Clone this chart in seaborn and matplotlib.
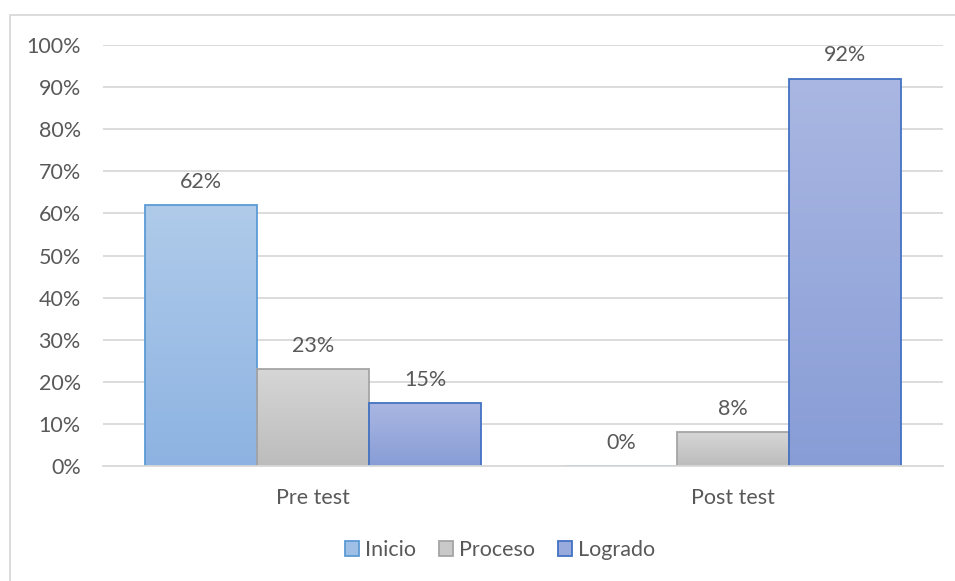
import numpy as np
import pandas as pd
import matplotlib
matplotlib.use("Agg")
import matplotlib.pyplot as plt
import seaborn as sns
from matplotlib.colors import LinearSegmentedColormap
from matplotlib.patches import Rectangle

categories = ["Pre test", "Post test"]
series = ["Inicio", "Proceso", "Logrado"]
inicio = [0.62, 0.00]
proceso = [0.23, 0.08]
logrado = [0.15, 0.92]
y_ticks = [0.0, 0.1, 0.2, 0.3, 0.4, 0.5, 0.6, 0.7, 0.8, 0.9, 1.0]

rows = []
for s, vals in zip(series, [inicio, proceso, logrado]):
    for c, v in zip(categories, vals):
        rows.append({"Test": c, "Nivel": s, "Valor": v})
df = pd.DataFrame(rows)

sns.set_theme(style="white")
plt.rcParams["font.family"] = ["Lato", "DejaVu Sans"]
txt = "#595959"
fs = 15.5

edge_colors = {"Inicio": "#5b9bd5", "Proceso": "#a5a5a5", "Logrado": "#4472c4"}
grad = {"Inicio": ("#b0cbea", "#8db3e2"),
        "Proceso": ("#d6d6d6", "#bcbcbc"),
        "Logrado": ("#aab7e2", "#889dd6")}
mid = {"Inicio": "#9fbfe6", "Proceso": "#c9c9c9", "Logrado": "#99aadc"}

fig = plt.figure(figsize=(9.55, 5.81), dpi=100)
ax = fig.add_axes([103/955, 115/581, 840/955, 421/581])

sns.barplot(data=df, x="Test", y="Valor", hue="Nivel", hue_order=series,
            order=categories, palette=mid, width=0.8, ax=ax, legend=False,
            saturation=1)

for cont, s in zip(ax.containers, series):
    cmap = LinearSegmentedColormap.from_list(s, [grad[s][1], grad[s][0]])
    for bar in cont:
        bar.set_edgecolor(edge_colors[s])
        bar.set_linewidth(1.3)
        x0, y0 = bar.get_x(), bar.get_y()
        w, h = bar.get_width(), bar.get_height()
        if h > 0:
            bar.set_facecolor("none")
            im = ax.imshow(np.linspace(0, 1, 256).reshape(-1, 1), cmap=cmap,
                           aspect="auto", origin="lower",
                           extent=[x0, x0 + w, y0, y0 + h], zorder=bar.get_zorder() - 0.1)
            im.set_clip_path(bar)
    labels = [f"{v*100:.0f}%" for v in cont.datavalues]
    ax.bar_label(cont, labels=labels, padding=9.5, color=txt, fontsize=fs)

ax.set_xlim(-0.5, 1.5)
ax.set_ylim(0, 1.0)
ax.set_yticks(y_ticks)
ax.set_yticklabels([f"{t*100:.0f}%" for t in y_ticks])
ax.yaxis.grid(True, color="#d9d9d9", linewidth=1.3)
ax.set_axisbelow(True)
for sp in ["top", "right", "left"]:
    ax.spines[sp].set_visible(False)
ax.spines["bottom"].set_color("#d9d9d9")
ax.spines["bottom"].set_linewidth(1.3)
ax.tick_params(axis="both", length=0, colors=txt, labelsize=fs)
ax.tick_params(axis="x", pad=16)
ax.tick_params(axis="y", pad=16)
ax.set_xlabel("")
ax.set_ylabel("")

handles = [Rectangle((0, 0), 1, 1, facecolor=mid[s], edgecolor=edge_colors[s], linewidth=1.3)
           for s in series]
fig.legend(handles, series, loc="center", bbox_to_anchor=(500/955, 1 - 550/581),
           ncol=3, frameon=False, fontsize=fs, handlelength=0.65, handleheight=0.65,
           handletextpad=0.25, columnspacing=1.1, labelcolor=txt)

border = Rectangle((10/955, -0.05), 1.0, 1 - 15/581 + 0.05, transform=fig.transFigure,
                   fill=False, edgecolor="#d9d9d9", linewidth=1.3)
fig.patches.append(border)

fig.savefig("out.png", dpi=100, facecolor="white")
